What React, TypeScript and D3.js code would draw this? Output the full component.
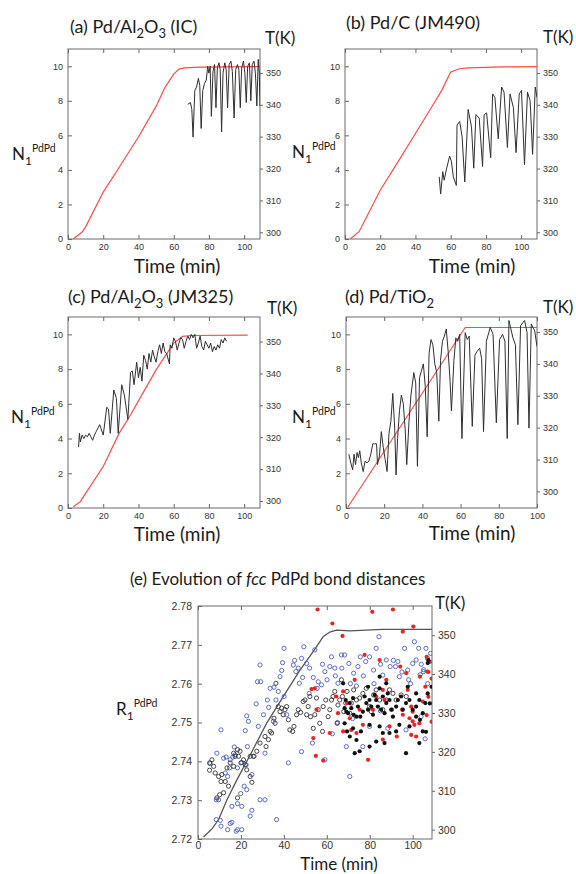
import React, { useEffect, useRef } from 'react';
import * as d3 from 'd3';

type Pt = [number, number];

// temperature ramps (K) vs time (min)
const tempA: Pt[] = [[3, 297.9], [8, 300.1], [10, 301.7], [20, 312.6], [30, 321.2], [40, 329.9], [50, 339.5], [55, 345.4], [60, 349.6], [63, 351.2], [66, 351.6], [75, 351.8], [90, 351.9], [109, 352]];
const tempB: Pt[] = [[3, 297.9], [8, 300.2], [20, 313.2], [30, 322], [40, 331], [50, 340], [55, 344.6], [60, 350.3], [65, 351.3], [70, 351.6], [90, 351.9], [109, 352]];
const tempC: Pt[] = [[3, 298.2], [7, 299.8], [10, 302.4], [20, 310.8], [29, 321.2], [35, 326.5], [40, 331.4], [50, 341.1], [60, 349.5], [65, 351.6], [70, 351.9], [102, 352]];
const tempD: Pt[] = [[1, 295.1], [62.4, 351.4], [100, 351.4]];
const tempE: Pt[] = [[2.6, 298.1], [6.5, 300.2], [9.6, 302.6], [13.5, 307.7], [18.1, 312.8], [24.3, 319.2], [32, 327.4], [39.7, 334.2], [47.5, 341], [55.2, 347], [58.3, 349.6], [61.4, 350.8], [64.5, 351.3], [70.7, 351.1], [86.1, 351.5], [109, 351.5]];

// N1 PdPd coordination numbers
const nA: Pt[] = [[68, 7.8], [69.5, 7.9], [70.3, 7.5], [71, 5.9], [72, 8.6], [73, 8.8], [74, 9.3], [74.8, 8.9], [75.6, 6.4], [76.5, 8.6], [77.5, 9.0], [78.5, 9.2], [79.3, 10.0], [80, 9.6], [80.7, 10.0], [81.4, 7.1], [82.3, 9.7], [83.2, 10.1], [84, 7.6], [84.8, 9.9], [85.7, 10.2], [86.4, 9.8], [87.2, 6.2], [88, 9.6], [89, 10.2], [89.8, 9.8], [90.6, 7.6], [91.5, 10.1], [92.5, 10.3], [93.3, 9.7], [94.3, 7.0], [95.2, 9.8], [96.2, 10.1], [97, 9.8], [97.8, 7.6], [98.6, 9.9], [99.6, 10.3], [100.4, 9.6], [101.2, 7.9], [102, 10.0], [103, 10.2], [103.8, 8.0], [104.6, 10.1], [105.6, 10.3], [106.4, 9.6], [107.2, 7.7], [108, 10.4], [108.6, 9.6], [109, 7.7]];
const nB: Pt[] = [[53.5, 3.6], [54.3, 2.6], [55.5, 3.9], [56.3, 3.4], [57.5, 4.0], [59.4, 4.8], [60.4, 4.5], [61.5, 3.6], [63.2, 3.1], [63.6, 6.6], [65.1, 6.8], [66.5, 5.9], [68, 3.3], [69.9, 7.5], [71.8, 6.5], [73.1, 4.1], [74.3, 7.2], [76.2, 7.0], [78.1, 4.2], [79, 7.2], [80.4, 7.3], [82.7, 4.7], [83.8, 8.4], [85.1, 8.2], [87, 5.8], [88.9, 8.8], [90.3, 8.5], [92.2, 5.3], [93.7, 8.4], [95.6, 7.6], [97.1, 5.0], [98.9, 8.4], [100.2, 8.6], [101.9, 4.3], [103.6, 8.5], [105.1, 8.0], [106.5, 4.9], [108, 8.8], [109, 8.2]];
const nC: Pt[] = [[6, 3.5], [6.5, 4.3], [7, 3.8], [8, 4.2], [9, 4.0], [10, 4.2], [11, 4.1], [12, 4.3], [13, 4.1], [14, 3.9], [15, 4.2], [16, 4.4], [18, 4.8], [20, 4.2], [22, 5.8], [23, 5.7], [24, 4.3], [26, 6.8], [27.5, 6.3], [28.5, 4.3], [30.5, 7.1], [32, 6.5], [34, 5.1], [35.5, 7.8], [36.5, 7.9], [37.5, 7.1], [39, 8.4], [40, 7.5], [41, 8.1], [42, 7.3], [43, 8.8], [44, 8.5], [45, 8.0], [46, 8.9], [47, 8.4], [48, 9.1], [49, 8.7], [50, 8.4], [51, 9.0], [52, 9.4], [53, 8.9], [54, 9.5], [55, 9.0], [56, 8.9], [57.6, 8.3], [58, 9.4], [59, 9.2], [60, 9.8], [61, 9.6], [62, 9.1], [63, 9.5], [64, 9.8], [65, 9.7], [66, 9.2], [67, 9.6], [68, 9.9], [69, 9.7], [70, 10.0], [71, 9.8], [72, 10.0], [73, 9.2], [74, 9.5], [75, 9.9], [76, 9.3], [77, 9.1], [78, 9.6], [79, 9.4], [80, 9.2], [81, 9.5], [82, 9.0], [83, 9.3], [84, 9.1], [85, 9.4], [86, 9.2], [87, 9.7], [88, 9.5], [89, 9.8], [90, 9.6]];
const nD: Pt[] = [[1.5, 3.1], [2.5, 2.6], [3.5, 2.2], [4.2, 3.1], [5, 2.5], [5.8, 3.2], [6.5, 2.9], [7.2, 3.3], [8, 2.6], [9, 2.1], [10, 2.7], [11, 2.6], [12, 2.7], [13, 3.1], [14, 3.7], [15, 3.7], [16, 3.7], [16.5, 2.5], [17.5, 3.0], [18.5, 4.4], [19.5, 3.5], [20.5, 2.8], [21.5, 2.1], [22.5, 4.3], [23.5, 5.0], [24.5, 6.6], [25.5, 4.6], [26.2, 1.9], [27, 4.0], [28, 5.6], [29, 6.5], [30, 6.0], [31, 4.5], [31.8, 2.5], [33, 5.0], [34, 6.5], [35.5, 7.8], [36.5, 7.2], [37.4, 2.4], [38.5, 7.5], [39.5, 7.9], [40.5, 8.3], [41.5, 7.0], [42.5, 4.1], [43.5, 8.9], [44.5, 9.7], [45.5, 9.4], [46.5, 8.3], [47.5, 7.8], [48.6, 5.0], [49.5, 8.5], [50.5, 9.6], [51.5, 9.9], [52.5, 10.3], [53.5, 9.0], [54.5, 7.3], [55.2, 5.6], [56.5, 8.5], [57.5, 9.8], [58.5, 9.6], [59.5, 10.0], [60.7, 4.0], [62.4, 10.1], [63.5, 9.7], [64.5, 9.9], [66.1, 4.7], [67.5, 8.8], [68.5, 9.0], [70, 9.2], [71, 8.6], [72, 4.4], [73.5, 9.6], [75.5, 10.4], [77, 10.0], [78.7, 4.9], [80.4, 9.7], [82, 10.0], [83.2, 9.6], [84.4, 4.0], [85.3, 10.8], [87.4, 9.8], [88.7, 9.4], [90, 4.8], [91.4, 10.5], [93.5, 10.8], [94.8, 10.1], [95.8, 4.6], [97, 10.6], [98.8, 10.2], [100, 9.3]];

// R1 PdPd bond distances (A) vs time (min)
const blueOpen: Pt[] = [[10.7, 2.7481], [8.8, 2.7421], [5.7, 2.7394], [9.6, 2.7301], [8.5, 2.7301], [8.5, 2.725], [10.4, 2.7248], [10.7, 2.7233], [13.8, 2.7224], [15, 2.724], [15.8, 2.7243], [17.8, 2.722], [18.4, 2.7224], [11.9, 2.7408], [13.1, 2.7411], [14.7, 2.7383], [12.7, 2.737], [13.8, 2.7361], [15, 2.7404], [16.2, 2.7411], [17.3, 2.7417], [16.9, 2.7437], [18.4, 2.7383], [20.4, 2.7397], [22.4, 2.7391], [23, 2.7438], [23.5, 2.7503], [22.7, 2.7517], [22, 2.7479], [25.8, 2.7413], [25.1, 2.7366], [21.5, 2.7336], [19.9, 2.7317], [15.8, 2.7284], [18.4, 2.7291], [20.4, 2.7284], [22.7, 2.7327], [25.1, 2.7274], [20.4, 2.7224], [28.9, 2.7648], [27.7, 2.7605], [29.2, 2.7605], [32.3, 2.7558], [32.9, 2.7539], [30.5, 2.752], [28.1, 2.749], [27.1, 2.7548], [33.6, 2.7588], [35.4, 2.7591], [36.3, 2.7558], [39, 2.7634], [39.4, 2.7654], [40.1, 2.7691], [38.2, 2.7618], [37.4, 2.758], [41.3, 2.752], [44.4, 2.7648], [45.6, 2.7631], [46.7, 2.764], [47.2, 2.7601], [48.7, 2.7616], [49.3, 2.7695], [50.6, 2.7652], [51.8, 2.7575], [54.4, 2.7687], [53.7, 2.7616], [56, 2.7605], [57.5, 2.7597], [59.1, 2.7631], [61.4, 2.7644], [62.2, 2.7669], [63.7, 2.764], [65.2, 2.7601], [66.8, 2.7674], [68.3, 2.7674], [70.3, 2.7652], [72.5, 2.7627], [74.5, 2.7644], [75.6, 2.7669], [78.1, 2.7657], [79.9, 2.7669], [81.8, 2.7635], [84.3, 2.7721], [86.1, 2.7622], [87.7, 2.7661], [89.5, 2.7644], [92, 2.7644], [93.8, 2.7618], [96.2, 2.7691], [97.7, 2.7635], [100, 2.7652], [102.8, 2.7691], [105, 2.7631], [103.9, 2.7515], [96.9, 2.7481], [88.4, 2.7485], [79.9, 2.749], [76.8, 2.7438], [69.1, 2.7438], [62.6, 2.7471], [59.1, 2.7404], [53.3, 2.7447], [48.2, 2.7425], [42.1, 2.7396], [36.6, 2.725], [31.2, 2.7421], [28.9, 2.7301], [31.2, 2.7301], [70.7, 2.7361], [55.5, 2.7588], [60.1, 2.761], [73.8, 2.7594], [83, 2.7691], [93.1, 2.7657], [101.6, 2.7661], [106.2, 2.7691], [106.9, 2.7665], [24.3, 2.7259], [35.1, 2.7503], [40.1, 2.7567], [48.2, 2.7665], [100.8, 2.7708], [108.3, 2.7678], [105.1, 2.7636], [103.5, 2.7623], [105.8, 2.7458], [98.1, 2.761], [45, 2.766], [52, 2.764], [58, 2.765], [64, 2.762], [67, 2.764], [71, 2.76], [77, 2.762], [82, 2.76], [85, 2.765], [91, 2.766], [95, 2.763], [99, 2.76], [104, 2.765], [107, 2.76], [65, 2.75], [72, 2.751], [85, 2.753]];
const blackOpen: Pt[] = [[5.4, 2.7396], [6.5, 2.7404], [7.3, 2.7387], [5.4, 2.7377], [8, 2.737], [9.6, 2.7361], [11.1, 2.7366], [10.7, 2.7348], [12.7, 2.7348], [11.9, 2.7319], [14.2, 2.7336], [13.5, 2.7383], [15, 2.7396], [16.6, 2.7421], [17.3, 2.7413], [16.6, 2.7387], [18.9, 2.7413], [18.4, 2.743], [19.6, 2.7426], [20, 2.7396], [21.2, 2.7404], [22, 2.7391], [22.7, 2.7378], [24.3, 2.7361], [25.1, 2.7346], [26.1, 2.7413], [27.4, 2.7426], [28.9, 2.7447], [31.2, 2.7464], [31.7, 2.7438], [32.8, 2.7456], [33.6, 2.7477], [34.3, 2.7473], [35.4, 2.7511], [35.9, 2.7498], [37.4, 2.7541], [36.3, 2.7601], [38.2, 2.7528], [39, 2.7537], [39.7, 2.752], [40.5, 2.7533], [41.3, 2.7541], [42.1, 2.7507], [42.8, 2.7481], [44.1, 2.7477], [44.7, 2.749], [45.9, 2.752], [46.7, 2.7533], [47.8, 2.7526], [49, 2.7554], [49.8, 2.7558], [50.6, 2.752], [51.3, 2.7541], [52.1, 2.7567], [52.4, 2.7515], [53.7, 2.7485], [54.4, 2.752], [55.2, 2.7563], [56, 2.7533], [56.7, 2.7498], [58, 2.7477], [58.3, 2.7541], [59.5, 2.7558], [60.6, 2.7515], [61.4, 2.7533], [62.2, 2.7558], [62.9, 2.7567], [63.7, 2.758], [64.8, 2.7498], [65.2, 2.7545], [66, 2.7558], [66.8, 2.761], [67.3, 2.7567], [67.9, 2.7528], [68.8, 2.755], [69.4, 2.758], [70.7, 2.7524], [71.4, 2.755], [72.5, 2.7584], [73.8, 2.7558], [75.3, 2.7563], [76.8, 2.7575], [78.4, 2.7588], [79.9, 2.7541], [80.7, 2.7528], [81.8, 2.7571], [83, 2.7584], [84.6, 2.7558], [86.1, 2.7533], [87.7, 2.7558], [89.2, 2.7584], [90.8, 2.7575], [92.3, 2.7558], [94.6, 2.7571], [97, 2.7567], [8.8, 2.7306], [10.1, 2.7314], [18.4, 2.7306], [24.3, 2.7413]];
const redFilled: Pt[] = [[55.7, 2.7791], [62.6, 2.7755], [67.3, 2.7723], [81.2, 2.7785], [90.8, 2.7791], [95.4, 2.7734], [100.3, 2.7747], [52.9, 2.7586], [54.4, 2.7588], [55.2, 2.7533], [54.9, 2.7414], [53.7, 2.746], [58.3, 2.7402], [61.4, 2.7473], [65.2, 2.7524], [67.6, 2.758], [69.4, 2.755], [70.7, 2.7511], [71.4, 2.7481], [73.8, 2.7473], [75.3, 2.7533], [76.8, 2.7494], [79.2, 2.7404], [81.5, 2.7533], [83, 2.7567], [84.6, 2.7661], [86.1, 2.7584], [86.9, 2.7558], [87.7, 2.761], [89.2, 2.749], [90.4, 2.7533], [92.6, 2.7464], [94.2, 2.7644], [95.1, 2.7533], [97, 2.7627], [97.7, 2.7584], [99.3, 2.7541], [100, 2.7503], [101.6, 2.7464], [103.4, 2.7618], [104.7, 2.7554], [105.9, 2.7592], [106.9, 2.7631], [77.6, 2.7674], [64.4, 2.7567], [73, 2.761], [67.6, 2.7477], [86.1, 2.7456], [95.4, 2.752], [106.5, 2.7669], [108, 2.7656], [107.3, 2.763], [108.8, 2.7613], [100, 2.7528], [106.5, 2.7519], [103.1, 2.7498], [98.5, 2.7511], [100.8, 2.7494], [99.3, 2.7468], [108.8, 2.7502], [107.3, 2.7566]];
const blackFilled: Pt[] = [[67.6, 2.7601], [68.8, 2.7558], [69.1, 2.7528], [69.9, 2.7524], [70.7, 2.755], [71.4, 2.7537], [72.2, 2.7563], [72.5, 2.752], [73.8, 2.7515], [74.5, 2.7541], [75.6, 2.7515], [76.8, 2.7528], [77.6, 2.7567], [78.4, 2.755], [79.2, 2.7533], [79.9, 2.7558], [80.7, 2.7541], [81.5, 2.752], [82.3, 2.7571], [83, 2.7558], [83.8, 2.7541], [84.6, 2.7588], [85.3, 2.7533], [86.1, 2.7567], [86.9, 2.7524], [87.7, 2.755], [88.4, 2.7575], [89.2, 2.7558], [90, 2.7533], [90.8, 2.7515], [92.3, 2.7541], [93.1, 2.7558], [94.6, 2.7567], [95.4, 2.7533], [96.9, 2.755], [97.7, 2.7592], [98.5, 2.7558], [100, 2.7533], [101.6, 2.7541], [103.1, 2.7558], [104.7, 2.7524], [105.9, 2.755], [107, 2.7575], [73.8, 2.7455], [75.3, 2.7426], [73, 2.7421], [79.9, 2.7438], [83, 2.7451], [86.1, 2.7473], [86.9, 2.7447], [92.3, 2.7477], [101.6, 2.7515], [103.1, 2.7447], [104.7, 2.7477], [70.7, 2.7464], [75.9, 2.7477], [79.9, 2.7494], [84.6, 2.749], [89.2, 2.7473], [93.8, 2.7494], [98.5, 2.749], [69.4, 2.7477], [72.2, 2.7485], [68.3, 2.7498], [68.3, 2.7537], [79.2, 2.7592], [84.6, 2.7618], [87.7, 2.7601], [101.6, 2.7575], [103.4, 2.7507], [107, 2.7653], [96.9, 2.7421], [106.2, 2.7476], [108.8, 2.7592], [108, 2.7549], [107.3, 2.7661]];

const timeTicks = [0, 20, 40, 60, 80, 100];
const nTicks = [0, 2, 4, 6, 8, 10];
const tTicks = [300, 310, 320, 330, 340, 350];
const rTicks = [2.72, 2.73, 2.74, 2.75, 2.76, 2.77, 2.78];

const TICK_FONT = '"Liberation Sans", Arial, sans-serif';
const LABEL_FONT = 'Lato, "Open Sans", sans-serif';

type Part = { s: string; shift?: number; size?: number; italic?: boolean };

function rich(g: any, x: number, y: number, parts: Part[], size: number, anchor = 'start') {
  const t = g.append('text').attr('x', x).attr('y', y).attr('font-size', size)
    .attr('font-family', LABEL_FONT).attr('fill', '#1a1a1a').attr('text-anchor', anchor);
  let cur = 0;
  parts.forEach(p => {
    const sh = p.shift ?? 0;
    const ts = t.append('tspan').attr('dy', sh - cur).attr('font-size', p.size ?? size).text(p.s);
    if (p.italic) ts.attr('font-style', 'italic');
    cur = sh;
  });
}

function frame(svg: any, p: any) {
  const x = d3.scaleLinear().domain([0, p.xMax]).range([p.left, p.right]);
  const y = d3.scaleLinear().domain(p.yDom).range([p.bottom, p.top]);
  const t = d3.scaleLinear().domain(p.tDom).range([p.bottom, p.top]);
  const fs = p.tickFont;
  const g = svg.append('g');

  const style = (ax: any) => {
    ax.select('.domain').remove();
    ax.selectAll('line').attr('stroke', '#666');
    ax.selectAll('text').attr('fill', '#333').attr('font-family', TICK_FONT).attr('font-size', fs);
    ax.attr('font-family', null).attr('font-size', null);
  };

  g.append('g').attr('transform', `translate(0,${p.bottom})`)
    .call(d3.axisBottom(x).tickValues(timeTicks).tickSize(-4).tickPadding(p.bPad).tickFormat(d3.format('d')))
    .call(style);
  g.append('g').attr('transform', `translate(0,${p.top})`)
    .call(d3.axisTop(x).tickValues(timeTicks).tickSize(-4).tickFormat(() => ''))
    .call(style);
  g.append('g').attr('transform', `translate(${p.left},0)`)
    .call(d3.axisLeft(y).tickValues(p.yTicks).tickSize(-4).tickPadding(p.lPad).tickFormat(p.yFmt))
    .call(style);
  g.append('g').attr('transform', `translate(${p.right},0)`)
    .call(d3.axisRight(t).tickValues(tTicks).tickSize(3).tickPadding(3).tickFormat(d3.format('d')))
    .call(style);

  g.append('rect').attr('x', p.left).attr('y', p.top)
    .attr('width', p.right - p.left).attr('height', p.bottom - p.top)
    .attr('fill', 'none').attr('stroke', '#6a6a6a').attr('stroke-width', 1);

  rich(g, p.titleX, p.titleY, p.title, p.titleSize);
  rich(g, p.tkX, p.tkY, [{ s: 'T(K)' }], 17);
  rich(g, p.ylX, p.ylY, [{ s: p.ySym }, { s: '1', shift: 5, size: 12 }, { s: 'PdPd', shift: -8, size: 10.5 }], 17);
  rich(g, p.xlX, p.xlY, [{ s: 'Time (min)' }], p.xlSize, 'middle');

  const id = 'clip' + p.key;
  svg.append('clipPath').attr('id', id).append('rect')
    .attr('x', p.left).attr('y', p.top).attr('width', p.right - p.left).attr('height', p.bottom - p.top);
  const plot = svg.append('g').attr('clip-path', `url(#${id})`);
  return { x, y, t, plot };
}

const panels = [
  { key: 'a', left: 68, right: 260, top: 49, bottom: 239, xMax: 109, yDom: [0, 11], tDom: [297.9, 357.5], temp: tempA, n: nA,
    title: [{ s: '(a) Pd/Al' }, { s: '2', shift: 5, size: 13 }, { s: 'O' }, { s: '3', shift: 5, size: 13 }, { s: ' (IC)' }], titleX: 70, titleY: 33,
    tkX: 265, tkY: 44, ylX: 12, ylY: 160, xlX: 177, xlY: 273 },
  { key: 'b', left: 345, right: 537, top: 49, bottom: 239, xMax: 109, yDom: [0, 11], tDom: [297.9, 357.5], temp: tempB, n: nB,
    title: [{ s: '(b) Pd/C (JM490)' }], titleX: 346, titleY: 29,
    tkX: 543, tkY: 43, ylX: 292, ylY: 158, xlX: 472, xlY: 273 },
  { key: 'c', left: 68, right: 260, top: 317, bottom: 508, xMax: 109, yDom: [0, 11], tDom: [297.8, 357.7], temp: tempC, n: nC,
    title: [{ s: '(c) Pd/Al' }, { s: '2', shift: 5, size: 13 }, { s: 'O' }, { s: '3', shift: 5, size: 13 }, { s: ' (JM325)' }], titleX: 68, titleY: 303,
    tkX: 267, tkY: 314, ylX: 11, ylY: 423, xlX: 177, xlY: 541 },
  { key: 'd', left: 346, right: 537, top: 317, bottom: 508, xMax: 100, yDom: [0, 11], tDom: [294.8, 354.7], temp: tempD, n: nD,
    title: [{ s: '(d) Pd/TiO' }, { s: '2', shift: 5, size: 13 }], titleX: 345, titleY: 303,
    tkX: 543, tkY: 313, ylX: 292, ylY: 423, xlX: 472, xlY: 540 },
];

export default function App() {
  const ref = useRef<SVGSVGElement>(null);

  useEffect(() => {
    const svg = d3.select(ref.current);
    svg.selectAll('*').remove();

    panels.forEach(p => {
      const { x, y, t, plot } = frame(svg, {
        ...p, yTicks: nTicks, yFmt: d3.format('d'), ySym: 'N', tickFont: 9, bPad: 5, lPad: 5, titleSize: 18, xlSize: 19,
      });
      // temperature ramp
      plot.append('path').datum(p.temp)
        .attr('fill', 'none').attr('stroke', '#ff4a4a').attr('stroke-width', 1.2)
        .attr('d', d3.line<Pt>().x(d => x(d[0])).y(d => t(d[1])));
      // coordination number
      plot.append('path').datum(p.n)
        .attr('fill', 'none').attr('stroke', '#2f2f2f').attr('stroke-width', 1)
        .attr('d', d3.line<Pt>().x(d => x(d[0])).y(d => y(d[1])));
    });

    // panel (e)
    const pe = {
      key: 'e', left: 198, right: 432, top: 606, bottom: 839, xMax: 109, yDom: [2.72, 2.78], tDom: [297.6, 357.5],
      yTicks: rTicks, yFmt: d3.format('.2f'), ySym: 'R', tickFont: 10.5, bPad: 3, lPad: 6,
      title: [{ s: '(e) Evolution of ' }, { s: 'fcc', italic: true }, { s: ' PdPd bond distances' }], titleX: 130, titleY: 585, titleSize: 17,
      tkX: 435, tkY: 609, ylX: 116, ylY: 715, xlX: 339, xlY: 870, xlSize: 17,
    };
    const { x, y, t, plot } = frame(svg, pe);

    plot.append('path').datum(tempE)
      .attr('fill', 'none').attr('stroke', '#555').attr('stroke-width', 1.3)
      .attr('d', d3.line<Pt>().x(d => x(d[0])).y(d => t(d[1])));

    plot.selectAll('.bo').data(blueOpen).join('circle')
      .attr('cx', d => x(d[0])).attr('cy', d => y(d[1])).attr('r', 2.1)
      .attr('fill', 'none').attr('stroke', '#4a5cc4').attr('stroke-width', 0.9);
    plot.selectAll('.ko').data(blackOpen).join('circle')
      .attr('cx', d => x(d[0])).attr('cy', d => y(d[1])).attr('r', 2.1)
      .attr('fill', 'none').attr('stroke', '#333').attr('stroke-width', 0.9);
    plot.selectAll('.rf').data(redFilled).join('circle')
      .attr('cx', d => x(d[0])).attr('cy', d => y(d[1])).attr('r', 2.1)
      .attr('fill', '#ee2222');
    plot.selectAll('.kf').data(blackFilled).join('circle')
      .attr('cx', d => x(d[0])).attr('cy', d => y(d[1])).attr('r', 2.1)
      .attr('fill', '#111');
  }, []);

  return (
    <svg ref={ref} width={576} height={874}
      style={{ position: 'absolute', left: 0, top: 0, background: '#fff' }} />
  );
}
